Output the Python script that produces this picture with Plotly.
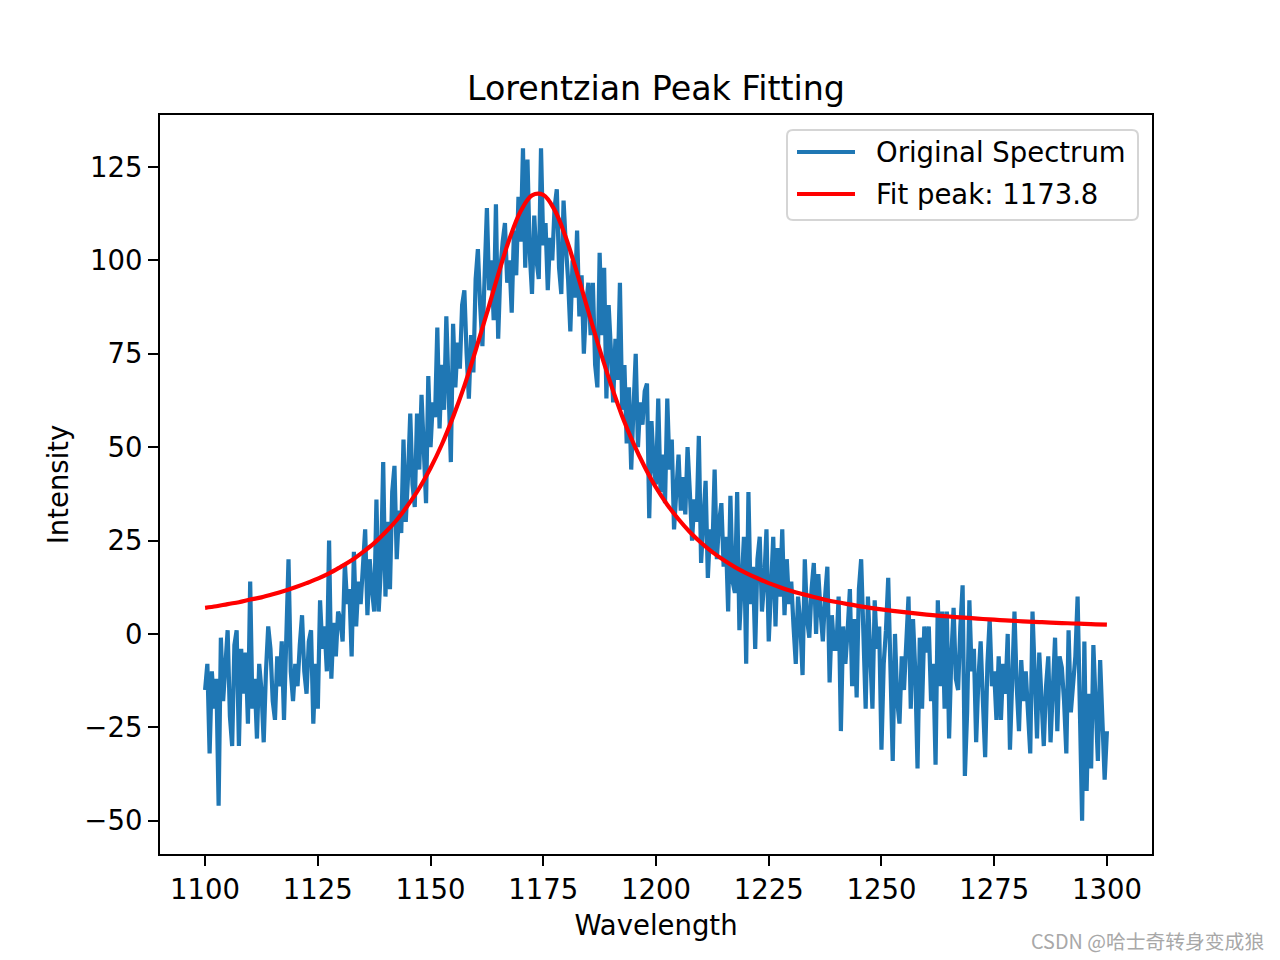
import numpy as np
import plotly.graph_objects as go

# ---------------- data ----------------
wl_start, wl_step = 1100.0, 0.5
spectrum = [
    # 1100 - 1109.5
    -15, -8, -32, -10, -20, -12, -46, -1, -18, -6, 1, -22, -30, -3, 1, -30, -4, -16, -5, -24,
    # 1110 - 1119.5
    14, -20, -12, -28, -8, -15, -29, -10, 2, -4, -18, -23, -6, -14, -2, -23, -5, 20, -10, -18,
    # 1120 - 1129.5
    -8, -14, -3, 5, -10, -16, -2, 1, -24, -8, -20, 9, -4, 2, -10, 25, -12, 3, -6, 6,
    # 1130 - 1139.5
    4, -2, 19, 8, 12, -6, 22, 2, 14, 8, 18, 28, 5, 20, 12, 6, 36, 6, 18, 46,
    # 1140 - 1149.5
    10, 30, 12, 38, 45, 20, 33, 27, 52, 30, 42, 59, 40, 34, 59, 44, 64, 48, 35, 69,
    # 1150 - 1159.5
    50, 62, 58, 82, 55, 72, 60, 85, 62, 46, 83, 66, 78, 71, 88, 92, 75, 63, 80, 70,
    # 1160 - 1169.5
    95, 103, 88, 77, 96, 114, 92, 100, 84, 115, 79, 98, 105, 110, 94, 100, 86, 108, 96, 117,
    # 1170 - 1179.5
    105, 130, 98, 127, 102, 91, 112, 100, 95, 130, 104, 110, 92, 106, 100, 114, 119, 98, 91, 116,
    # 1180 - 1189.5
    104, 95, 81, 100, 90, 108, 85, 96, 75, 88, 94, 80, 94, 72, 66, 102, 80, 98, 63, 88,
    # 1190 - 1199.5
    76, 62, 79, 68, 94, 60, 72, 51, 66, 44, 60, 75, 50, 62, 56, 65, 67, 31, 57, 45,
    # 1200 - 1209.5
    40, 63, 38, 48, 35, 63, 44, 52, 28, 40, 48, 33, 42, 32, 50, 38, 25, 36, 30, 53,
    # 1210 - 1219.5
    19, 30, 41, 15, 28, 22, 44, 20, 30, 35, 18, 26, 6, 37, 14, 11, 38, 1, 16, 26,
    # 1220 - 1229.5
    -8, 38, 8, 18, -4, 20, 26, 6, 14, 28, -2, 12, 26, 2, 23, 10, 28, 5, 20, 8,
    # 1230 - 1239.5
    14, 2, -8, 10, 3, -11, 20, 4, -1, 12, 19, 0, 16, 6, -2, 10, 18, -13, 5, -4,
    # 1240 - 1249.5
    -4, 10, -26, 2, -8, 1, 12, -14, 4, -17, 12, 20, -5, -20, 10, -6, -20, 9, -4, 2,
    # 1250 - 1259.5
    -31, -8, 1, 15, -12, -34, 0, -18, -24, -6, -15, -2, 10, -20, 4, -10, -36, -1, -20, 2,
    # 1260 - 1269.5
    -5, 2, -18, -8, -35, 9, -14, 6, -20, 6, -28, -6, 7, -12, -15, 2, 13, -38, -21, 9,
    # 1270 - 1279.5
    -10, -4, -29, -12, -2, -18, -33, -8, 4, -14, -10, -23, -6, -23, -8, -16, 0, -31, -12, 6,
    # 1280 - 1289.5
    -14, -26, -7, -18, -10, -24, -32, 6, -12, -28, -5, -20, -30, -14, -6, -29, -12, -1, -26, -6,
    # 1290 - 1300
    -9, -18, -32, 1, -21, -12, -6, 10, -20, -50, -2, -42, -16, -36, -3, -16, -34, -7, -21, -39, -26,
]
wavelength = [wl_start + i * wl_step for i in range(len(spectrum))]

fit_start, fit_step = 1100.0, 2.5
fit_curve = [
    7.0, 7.4, 8.0, 8.5, 9.2, 9.8, 10.6, 11.5, 12.5, 13.6,
    14.8, 16.2, 17.9, 19.7, 21.9, 24.3, 27.2, 30.5, 34.5, 39.0,
    44.4, 50.7, 58.1, 66.4, 75.9, 85.9, 96.2, 105.7, 113.2, 117.4,
    117.5, 113.5, 106.1, 96.6, 86.3, 76.2, 66.8, 58.3, 51.0, 44.7,
    39.2, 34.6, 30.7, 27.3, 24.4, 21.9, 19.8, 17.9, 16.3, 14.9,
    13.6, 12.5, 11.5, 10.65, 9.87, 9.17, 8.54, 7.97, 7.46, 6.99,
    6.56, 6.17, 5.82, 5.49, 5.19, 4.92, 4.66, 4.42, 4.21, 4.00,
    3.81, 3.64, 3.47, 3.32, 3.18, 3.04, 2.92, 2.80, 2.68, 2.58, 2.48,
]
fit_wavelength = [fit_start + i * fit_step for i in range(len(fit_curve))]

x_ticks = [1100, 1125, 1150, 1175, 1200, 1225, 1250, 1275, 1300]
y_ticks = [-50, -25, 0, 25, 50, 75, 100, 125]

series_names = ["Original Spectrum", "Fit peak: 1173.8"]
series_colors = ["#1f77b4", "#ff0000"]

# ---------------- figure ----------------
FONT = "DejaVu Sans"
FS = 27.5
LW = 4.2

fig = go.Figure()
fig.add_trace(go.Scatter(x=wavelength, y=spectrum, mode="lines",
                         name=series_names[0], showlegend=False,
                         line=dict(color=series_colors[0], width=LW)))
fig.add_trace(go.Scatter(x=fit_wavelength, y=fit_curve, mode="lines",
                         name=series_names[1], line_shape="spline", showlegend=False,
                         line=dict(color=series_colors[1], width=LW)))

axis_common = dict(showgrid=False, zeroline=False, showline=True, mirror=True,
                   linecolor="black", linewidth=2.2, ticks="outside",
                   ticklen=10, tickwidth=2.2, tickcolor="black",
                   tickfont=dict(family=FONT, size=FS, color="black"))

# plot area in pixels
L, R, T, B = 160, 1152, 115, 854
W, H = R - L, B - T


def px(xp):
    return (xp - L) / W


def py(yp):
    return (B - yp) / H


fig.update_layout(
    width=1280, height=960,
    margin=dict(l=L, r=1280 - R, t=T, b=960 - B),
    paper_bgcolor="white", plot_bgcolor="white",
    font=dict(family=FONT, color="black"),
    title=dict(text="Lorentzian Peak Fitting", x=656 / 1280, xanchor="center",
               xref="container", yref="container", y=1 - 88 / 960, yanchor="middle",
               font=dict(family=FONT, size=33.3, color="black")),
    xaxis=dict(range=[1090, 1310], tickvals=x_ticks,
               title=dict(text="Wavelength", standoff=12,
                          font=dict(family=FONT, size=FS, color="black")),
               **axis_common),
    yaxis=dict(range=[-58.9, 138.9], tickvals=y_ticks,
               title=dict(text="Intensity", standoff=8,
                          font=dict(family=FONT, size=FS, color="black")),
               **axis_common),
    showlegend=False,
)

# legend drawn like matplotlib's (rounded frame, long line samples)
x0, x1, y0, y1, rr = 787, 1138, 130, 220, 6
path = (f"M {px(x0 + rr)},{py(y0)} L {px(x1 - rr)},{py(y0)} "
        f"Q {px(x1)},{py(y0)} {px(x1)},{py(y0 + rr)} L {px(x1)},{py(y1 - rr)} "
        f"Q {px(x1)},{py(y1)} {px(x1 - rr)},{py(y1)} L {px(x0 + rr)},{py(y1)} "
        f"Q {px(x0)},{py(y1)} {px(x0)},{py(y1 - rr)} L {px(x0)},{py(y0 + rr)} "
        f"Q {px(x0)},{py(y0)} {px(x0 + rr)},{py(y0)} Z")
fig.add_shape(type="path", path=path, xref="paper", yref="paper",
              line=dict(color="#d5d5d5", width=2), fillcolor="rgba(255,255,255,0.8)")
for i, (nm, col) in enumerate(zip(series_names, series_colors)):
    yy = 152 + 42 * i
    fig.add_shape(type="line", xref="paper", yref="paper",
                  x0=px(797), x1=px(855), y0=py(yy), y1=py(yy),
                  line=dict(color=col, width=LW))
    fig.add_annotation(text=nm, xref="paper", yref="paper", x=px(874), y=py(yy),
                       xanchor="left", yanchor="middle", showarrow=False,
                       font=dict(family=FONT, size=FS, color="black"))

fig.add_annotation(text="CSDN @哈士奇转身变成狼", xref="paper", yref="paper",
                   x=px(1266), y=py(941),
                   xanchor="right", yanchor="middle", showarrow=False,
                   font=dict(family="Noto Sans CJK SC", size=19.8, color="#a8a8a8"))

fig.write_html("out.html")
